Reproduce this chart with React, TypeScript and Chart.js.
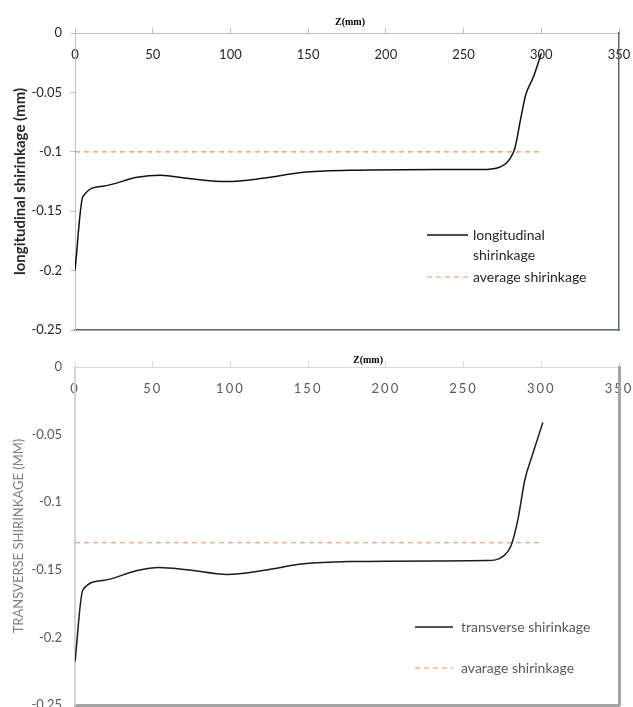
import React, { useEffect, useRef } from "react";
import { Chart, registerables } from "chart.js";

Chart.register(...registerables);

// ---- data ----
const xTicks = [0, 50, 100, 150, 200, 250, 300, 350];
const xTickLabels = ["0", "50", "100", "150", "200", "250", "300", "350"];
const yTicks = [0, -0.05, -0.1, -0.15, -0.2, -0.25];
const yTickLabels = ["0", "-0.05", "-0.1", "-0.15", "-0.2", "-0.25"];

const longZ = [0, 5, 18, 40, 55, 72, 98, 121, 147, 177, 235, 265, 276, 280, 283, 287, 290, 295, 300];
const longShrink = [-0.2, -0.138, -0.129, -0.1215, -0.1198, -0.1223, -0.1251, -0.1223, -0.1173, -0.1156, -0.1148, -0.1148, -0.111, -0.1055, -0.097, -0.0704, -0.052, -0.0368, -0.017];
const longAvgZ = [0, 300];
const longAvg = [-0.1, -0.1];

const transZ = [0, 5, 18, 40, 54, 72, 98, 121, 147, 177, 235, 265, 276, 280.6, 285, 289.5, 294, 301];
const transShrink = [-0.218, -0.165, -0.158, -0.1505, -0.1483, -0.15, -0.1534, -0.1505, -0.1456, -0.1439, -0.1434, -0.1432, -0.1395, -0.132, -0.1125, -0.083, -0.066, -0.041];
const transAvgZ = [0, 301];
const transAvg = [-0.13, -0.13];

const pts = (xs: number[], ys: number[]) => xs.map((x, i) => ({ x, y: ys[i] }));

const FONT = "Lato, 'Open Sans', sans-serif";
const ORANGE = "#ec8f5c";

type LegendSpec = {
  titleX: number;
  titleY: number;
  sampleX1: number;
  sampleX2: number;
  textX: number;
  color: string;
  items: { y: number; dashed: boolean; lines: string[]; lineColor: string }[];
  letterSpacedX?: boolean;
};

function overlayPlugin(spec: LegendSpec) {
  return {
    id: "overlay",
    beforeDraw(chart: any) {
      if (spec.letterSpacedX) {
        const sc = chart.scales.x;
        if (sc && !sc.__patched) {
          const orig = sc.drawLabels.bind(sc);
          sc.drawLabels = (ca: any) => {
            const ctx = chart.ctx as any;
            const prev = ctx.letterSpacing;
            ctx.letterSpacing = "2px";
            orig(ca);
            ctx.letterSpacing = prev || "0px";
          };
          sc.__patched = true;
        }
      }
    },
    afterDraw(chart: any) {
      const ctx = chart.ctx as CanvasRenderingContext2D;
      ctx.save();
      ctx.fillStyle = "#000";
      ctx.font = "bold 10px 'Liberation Serif', 'DejaVu Serif', serif";
      ctx.textAlign = "center";
      ctx.textBaseline = "middle";
      ctx.fillText("Z(mm)", spec.titleX, spec.titleY);
      for (const it of spec.items) {
        ctx.beginPath();
        ctx.strokeStyle = it.lineColor;
        ctx.lineWidth = it.dashed ? 1.2 : 1.5;
        ctx.setLineDash(it.dashed ? [5, 4] : []);
        ctx.moveTo(spec.sampleX1, it.y);
        ctx.lineTo(spec.sampleX2, it.y);
        ctx.stroke();
        ctx.setLineDash([]);
        ctx.fillStyle = spec.color;
        ctx.font = `14px ${FONT}`;
        ctx.textAlign = "left";
        it.lines.forEach((t, i) => ctx.fillText(t, spec.textX, it.y + i * 20));
      }
      ctx.restore();
    },
  };
}

function setTicks(values: number[]) {
  return (s: any) => {
    s.ticks = values.map((v) => ({ value: v }));
  };
}

function makeConfig(o: {
  lineData: { x: number; y: number }[];
  avgData: { x: number; y: number }[];
  lineLabel: string;
  avgLabel: string;
  lineColor: string;
  yTitle: string;
  yTitleColor: string;
  yTitleBold: boolean;
  yTitleSize: number;
  yTitlePad: number;
  tickColor: string;
  topH: number;
  padBottom: number;
  yTickMarks: boolean;
  leftBorder: string;
  leftBorderW: number;
  topBorder: string;
  frameColor: string;
  frameW: number;
  overlay: any;
}): any {
  return {
    type: "line",
    data: {
      datasets: [
        {
          label: o.lineLabel,
          data: o.lineData,
          borderColor: o.lineColor,
          borderWidth: 1.5,
          pointRadius: 0,
          cubicInterpolationMode: "monotone",
          xAxisID: "x",
          yAxisID: "y",
        },
        {
          label: o.avgLabel,
          data: o.avgData,
          borderColor: ORANGE,
          borderWidth: 1.2,
          borderDash: [5, 4],
          pointRadius: 0,
          xAxisID: "x",
          yAxisID: "y",
        },
      ],
    },
    options: {
      responsive: false,
      animation: false,
      events: [],
      layout: { padding: { left: 0, top: 0, right: 14, bottom: o.padBottom } },
      plugins: { legend: { display: false }, tooltip: { enabled: false } },
      scales: {
        x: {
          type: "linear",
          position: { y: 0 },
          min: 0,
          max: 350,
          afterBuildTicks: setTicks(xTicks),
          grid: { display: false },
          border: { display: false },
          ticks: {
            padding: 6,
            color: o.tickColor,
            font: { family: FONT, size: 13 },
            maxRotation: 0,
            autoSkip: false,
            callback: (_v: any, i: number) => xTickLabels[i],
          },
          afterFit: (s: any) => {
            s.paddingLeft = 0;
            s.paddingRight = 0;
          },
        },
        xTop: {
          type: "linear",
          position: "top",
          min: 0,
          max: 350,
          afterBuildTicks: setTicks(xTicks),
          ticks: { display: false },
          grid: { drawOnChartArea: false, drawTicks: true, tickLength: 5, color: o.topBorder },
          border: { color: o.topBorder, width: 1 },
          afterFit: (s: any) => {
            s.height = o.topH;
            s.paddingLeft = 0;
            s.paddingRight = 0;
          },
        },
        xBottom: {
          type: "linear",
          position: "bottom",
          min: 0,
          max: 350,
          ticks: { display: false },
          grid: { display: false },
          border: { color: o.frameColor, width: o.frameW },
          afterFit: (s: any) => {
            s.height = 0;
            s.paddingLeft = 0;
            s.paddingRight = 0;
          },
        },
        y: {
          type: "linear",
          position: "left",
          min: -0.25,
          max: 0,
          afterBuildTicks: setTicks(yTicks),
          grid: {
            drawOnChartArea: false,
            drawTicks: o.yTickMarks,
            tickLength: 5,
            color: o.leftBorder,
          },
          border: { color: o.leftBorder, width: o.leftBorderW },
          ticks: {
            padding: o.yTickMarks ? 8 : 13,
            color: o.tickColor,
            font: { family: FONT, size: 13 },
            autoSkip: false,
            callback: (_v: any, i: number) => yTickLabels[i],
          },
          title: {
            display: true,
            text: o.yTitle,
            color: o.yTitleColor,
            font: { family: FONT, size: o.yTitleSize, weight: o.yTitleBold ? "bold" : "normal" },
            padding: { top: o.yTitlePad, bottom: 0 },
          },
          afterFit: (s: any) => {
            s.width = 75;
            s.paddingTop = 0;
            s.paddingBottom = 0;
          },
        },
        yRight: {
          type: "linear",
          position: "right",
          min: -0.25,
          max: 0,
          ticks: { display: false },
          grid: { display: false },
          border: { color: o.frameColor, width: o.frameW },
          afterFit: (s: any) => {
            s.width = 0;
            s.paddingTop = 0;
            s.paddingBottom = 0;
          },
        },
      },
    },
    plugins: [o.overlay],
  };
}

export default function App() {
  const topRef = useRef<HTMLCanvasElement>(null);
  const botRef = useRef<HTMLCanvasElement>(null);

  useEffect(() => {
    const topCfg = makeConfig({
      lineData: pts(longZ, longShrink),
      avgData: pts(longAvgZ, longAvg),
      lineLabel: "longitudinal shirinkage",
      avgLabel: "average shirinkage",
      lineColor: "#111111",
      yTitle: "longitudinal shirinkage (mm)",
      yTitleColor: "#262626",
      yTitleBold: true,
      yTitleSize: 15,
      yTitlePad: 11,
      tickColor: "#262626",
      topH: 33,
      padBottom: 7,
      yTickMarks: true,
      leftBorder: "#c0c0c0",
      leftBorderW: 1,
      topBorder: "#c0c0c0",
      frameColor: "#56657d",
      frameW: 1.5,
      overlay: overlayPlugin({
        titleX: 350,
        titleY: 22,
        sampleX1: 427,
        sampleX2: 468,
        textX: 473,
        color: "#262626",
        items: [
          { y: 235, dashed: false, lines: ["longitudinal", "shirinkage"], lineColor: "#111111" },
          { y: 277, dashed: true, lines: ["average shirinkage"], lineColor: ORANGE },
        ],
      }),
    });
    const botCfg = makeConfig({
      lineData: pts(transZ, transShrink),
      avgData: pts(transAvgZ, transAvg),
      lineLabel: "transverse shirinkage",
      avgLabel: "avarage shirinkage",
      lineColor: "#1a1a1a",
      yTitle: "TRANSVERSE SHIRINKAGE (MM)",
      yTitleColor: "#7f7f7f",
      yTitleBold: false,
      yTitleSize: 13,
      yTitlePad: 11,
      tickColor: "#595959",
      topH: 30,
      padBottom: 2,
      yTickMarks: false,
      leftBorder: "#d4d4d4",
      leftBorderW: 2,
      topBorder: "#d9d9d9",
      frameColor: "#a3a3a3",
      frameW: 3,
      overlay: overlayPlugin({
        titleX: 368,
        titleY: 23,
        sampleX1: 415,
        sampleX2: 453,
        textX: 461,
        color: "#595959",
        letterSpacedX: true,
        items: [
          { y: 290, dashed: false, lines: ["transverse shirinkage"], lineColor: "#1a1a1a" },
          { y: 331, dashed: true, lines: ["avarage shirinkage"], lineColor: ORANGE },
        ],
      }),
    });
    const c1 = new Chart(topRef.current as HTMLCanvasElement, topCfg);
    const c2 = new Chart(botRef.current as HTMLCanvasElement, botCfg);
    return () => {
      c1.destroy();
      c2.destroy();
    };
  }, []);

  return (
    <div style={{ position: "absolute", left: 0, top: 0, width: 633, height: 707, background: "#fff", overflow: "hidden" }}>
      <canvas ref={topRef} width={633} height={337} style={{ position: "absolute", left: 0, top: 0, width: 633, height: 337 }} />
      <canvas ref={botRef} width={633} height={370} style={{ position: "absolute", left: 0, top: 337, width: 633, height: 370 }} />
    </div>
  );
}
